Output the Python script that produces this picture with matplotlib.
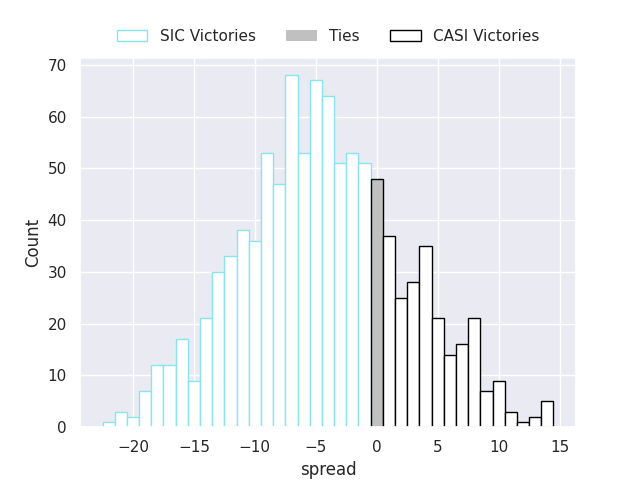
import matplotlib
matplotlib.use("Agg")
import matplotlib.pyplot as plt
import seaborn as sns
from matplotlib.patches import Patch

sns.set_theme(style="darkgrid")

sic_spread = [-22, -21, -20, -19, -18, -17, -16, -15, -14, -13, -12, -11, -10,
              -9, -8, -7, -6, -5, -4, -3, -2, -1]
sic_count = [1, 3, 2, 7, 12, 12, 17, 9, 21, 30, 33, 38, 36,
             53, 47, 68, 53, 67, 64, 51, 53, 51]
tie_spread = [0]
tie_count = [48]
casi_spread = [1, 2, 3, 4, 5, 6, 7, 8, 9, 10, 11, 12, 13, 14]
casi_count = [37, 25, 28, 35, 21, 14, 16, 21, 7, 9, 3, 1, 2, 5]

sic_color = "#85e6f0"
fig, ax = plt.subplots(figsize=(6.4, 4.8), dpi=100)
ax.bar(sic_spread, sic_count, width=1, color="white", edgecolor=sic_color, linewidth=1)
ax.bar(tie_spread, tie_count, width=1, color="#c0c0c0", edgecolor="black", linewidth=1)
ax.bar(casi_spread, casi_count, width=1, color="white", edgecolor="black", linewidth=1)

ax.set_xlabel("spread")
ax.set_ylabel("Count")
ax.set_xticks([-20, -15, -10, -5, 0, 5, 10, 15])

handles = [Patch(facecolor="white", edgecolor=sic_color, label="SIC Victories"),
           Patch(facecolor="#c0c0c0", edgecolor="none", label="Ties"),
           Patch(facecolor="white", edgecolor="black", label="CASI Victories")]
ax.legend(handles=handles, loc="lower center", bbox_to_anchor=(0.5, 1.0),
          ncol=3, frameon=False)

fig.savefig("out.png", dpi=100)
